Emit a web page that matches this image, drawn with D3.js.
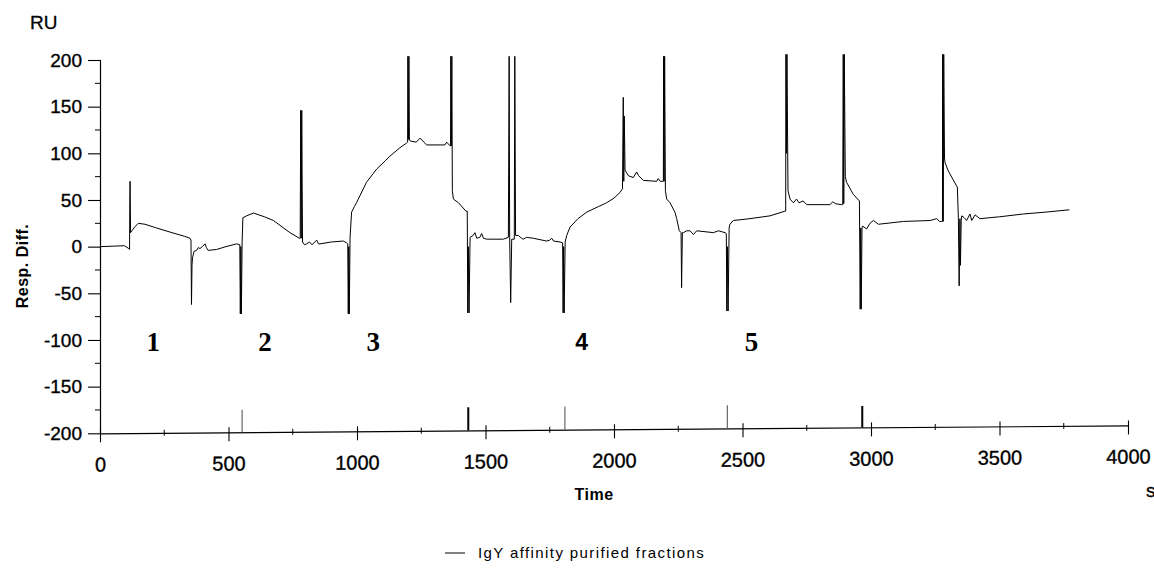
<!DOCTYPE html>
<html>
<head>
<meta charset="utf-8">
<script src="https://cdn.jsdelivr.net/npm/d3@7"></script>
<style>
  html, body { margin: 0; padding: 0; background: #fff; }
  svg { display: block; }
  text { font-family: "Liberation Sans", Arial, Helvetica, sans-serif; fill: #000; }
</style>
</head>
<body>
<svg id="chart" width="1154" height="573"></svg>
<script>
// ---------------- data ----------------
const timeS = [0,50,95,112,115,116,117,119,124,135,149,175,220,280,330,350,354,356,358,360,366,376,382,389,398,409,414,421,454,490,532,544,546,548,550,553,556,570,597,640,675,739,776,779,781,783,785,788,796,804,815,825,843,850,856,900,947,960,964,966,968,970,973,979,990,998,1037,1076,1110,1128,1167,1193,1197,1198,1200,1202,1204,1210,1230,1245,1251,1260,1271,1342,1349,1362,1364,1365,1367,1369,1371,1375,1395,1424,1429,1431,1433,1436,1440,1452,1459,1466,1478,1485,1492,1504,1569,1589,1592,1594,1598,1602,1612,1614,1617,1628,1640,1647,1660,1686,1738,1750,1758,1765,1790,1800,1802,1804,1806,1810,1816,1829,1860,1894,1940,1971,2000,2023,2033,2036,2038,2040,2043,2047,2056,2075,2088,2096,2114,2166,2172,2180,2189,2192,2193,2195,2197,2200,2205,2218,2237,2244,2254,2261,2263,2266,2270,2283,2296,2309,2322,2387,2406,2432,2437,2439,2441,2444,2448,2451,2464,2529,2607,2665,2668,2669,2671,2673,2677,2685,2698,2710,2720,2736,2750,2840,2851,2862,2886,2890,2892,2894,2896,2900,2905,2931,2955,2958,2960,2962,2965,2967,2983,2996,3009,3029,3126,3230,3256,3266,3275,3278,3279,3281,3283,3286,3288,3301,3333,3336,3340,3343,3346,3348,3351,3353,3363,3372,3385,3392,3405,3424,3500,3593,3680,3772];
const respRU = [0,0.5,1,-2,-3,48,70,15,17,21,25,24,20,15,11,9,7,-62,-20,-12,-5,-4,-1,-2,0,3,-1,-4,-3,0,3,2,-72,0,-72,5,31,33,36,32,28,15,9,9,146,9,146,5,2,3,5,2,7,3,3,5,6,4,3,-72,0,-72,10,37,43,47,69,83,92,97,106,111,112,204,115,204,114,113,112,116,115,112,109,109,112,108,108,204,108,204,60,51,47,38,38,-71,0,-71,10,12,15,9,10,14,9,8,8,10,204,10,-60,8,8,204,12,12,9,8,10,9,6,7,9,6,5,4,-71,0,-71,5,12,21,30,37,43,47,52,58,62,160,70,140,82,80,76,74,80,76,71,70,73,70,70,70,204,70,204,60,51,47,37,30,17,15,-44,15,15,17,17,13,17,15,17,15,14,-69,0,-69,20,24,28,30,33,38,38,206,100,206,60,51,47,51,47,49,45,45,48,46,45,45,206,46,206,75,69,56,49,-67,20,-67,20,22,19,25,28,24,27,28,30,27,27,27,206,27,206,95,90,81,65,64,30,-42,30,-20,28,33,31,28,35,28,34,30,32,35,37,39.5];

// injection marks on the baseline
const markTimes  = [553, 1433, 1809, 2441, 2966];
const markValues = [-176, -175, -175, -175, -177];
const markStrong = [false, true, false, false, true];

// sample numbers
const sampleLabels = ["1", "2", "3", "4", "5"];
const sampleTimes  = [207, 642, 1063, 1874, 2535];
const sampleValue  = -102;

// ticks
const yTickValues = [-200, -150, -100, -50, 0, 50, 100, 150, 200];
const yMinorValues = [-175, -125, -75, -25, 25, 75, 125, 175];
const xTickValues = [0, 500, 1000, 1500, 2000, 2500, 3000, 3500, 4000];
const xMinorValues = [250, 750, 1250, 1750, 2250, 2750, 3250, 3750];

const seriesName = "IgY affinity purified fractions";

// ---------------- layout ----------------
const svg = d3.select("#chart");
const plotL = 100, plotR = 1128, plotT = 60, plotB = 433.3;
const skew = -0.44; // scanned baseline is slightly tilted
const fmt = d => String(d);

const x = d3.scaleLinear().domain([0, 4000]).range([plotL, plotR]);
const y = d3.scaleLinear().domain([-200, 200]).range([plotB, plotT]);

svg.append("rect").attr("width", 1154).attr("height", 573).attr("fill", "#fff");

// ---- Y axis ----
const yAxis = svg.append("g").attr("transform", `translate(${plotL},0)`)
  .call(d3.axisLeft(y).tickValues(yTickValues).tickFormat(fmt).tickSize(12).tickSizeOuter(0).tickPadding(6));
yAxis.select(".domain").attr("stroke", "#000").attr("stroke-width", 1.2);
yAxis.selectAll(".tick line").attr("stroke", "#000").attr("x2", 1).attr("x1", -12).attr("stroke-width", 1.1);
yAxis.selectAll(".tick text").style("font-size", "19px")
  .attr("stroke", "#000").attr("stroke-width", 0.35);
svg.append("g").attr("transform", `translate(${plotL},0)`)
  .selectAll("line").data(yMinorValues).join("line")
  .attr("x1", -5).attr("x2", 1).attr("y1", d => y(d)).attr("y2", d => y(d))
  .attr("stroke", "#000").attr("stroke-width", 1);

// ---- X axis (tilted like the scan) ----
const xg = svg.append("g")
  .attr("transform", `translate(${plotL},${plotB}) skewY(${skew}) translate(${-plotL},0)`);
xg.call(d3.axisBottom(x).tickValues(xTickValues).tickFormat(fmt).tickSize(9).tickSizeOuter(0).tickPadding(15));
xg.select(".domain").attr("stroke", "#000").attr("stroke-width", 1.2);
xg.selectAll(".tick line").attr("stroke", "#000").attr("y1", -5).attr("y2", 9).attr("stroke-width", 1.1);
xg.selectAll(".tick text").style("font-size", "20px").attr("y", 24)
  .attr("stroke", "#000").attr("stroke-width", 0.35);
xg.selectAll("line.minor").data(xMinorValues).join("line").attr("class", "minor")
  .attr("x1", d => x(d)).attr("x2", d => x(d)).attr("y1", -3).attr("y2", 3)
  .attr("stroke", "#000").attr("stroke-width", 1);

// injection marks, sitting on the tilted baseline
const mg = svg.append("g")
  .attr("transform", `translate(${plotL},0) skewY(${skew}) translate(${-plotL},0)`);
mg.selectAll("line").data(markTimes).join("line")
  .attr("x1", d => x(d)).attr("x2", d => x(d))
  .attr("y1", y(-200)).attr("y2", (d, i) => y(markValues[i]))
  .attr("stroke", (d, i) => markStrong[i] ? "#000" : "#666")
  .attr("stroke-width", (d, i) => markStrong[i] ? 2 : 1.2);

// ---- trace ----
const pts = timeS.map((t, i) => [t, respRU[i]]);
const line = d3.line().x(d => x(d[0])).y(d => y(d[1]));
svg.append("path").datum(pts).attr("d", line)
  .attr("fill", "none").attr("stroke", "#000").attr("stroke-width", 1)
  .attr("stroke-linejoin", "miter");

// ---- sample numbers ----
svg.append("g").selectAll("text").data(sampleLabels).join("text")
  .attr("x", (d, i) => x(sampleTimes[i]))
  .attr("y", y(sampleValue))
  .attr("dy", "0.35em")
  .attr("text-anchor", "middle")
  .style("font-family", d => d === "4" ? '"Liberation Sans", Arial, sans-serif' : '"Liberation Serif", "Times New Roman", serif')
  .style("font-size", d => d === "4" ? "23px" : "27px")
  .style("font-weight", "bold")
  .text(d => d);

// ---- titles ----
svg.append("text").attr("x", 30).attr("y", 29).style("font-size", "19px")
  .attr("stroke", "#000").attr("stroke-width", 0.3).text("RU");
svg.append("text")
  .attr("transform", `translate(28,266) rotate(-90)`)
  .attr("text-anchor", "middle")
  .style("font-size", "16px").style("font-weight", "bold").style("letter-spacing", "0.5px")
  .text("Resp. Diff.");
svg.append("text").attr("x", 594).attr("y", 500).attr("text-anchor", "middle")
  .style("font-size", "16px").style("font-weight", "bold").style("letter-spacing", "0.5px").text("Time");
svg.append("text").attr("x", 1146).attr("y", 497).style("font-size", "19px")
  .attr("stroke", "#000").attr("stroke-width", 0.3).text("s");

// ---- legend ----
svg.append("line").attr("x1", 445).attr("x2", 465).attr("y1", 553).attr("y2", 553)
  .attr("stroke", "#000").attr("stroke-width", 1);
svg.append("text").attr("x", 478).attr("y", 558).style("font-size", "15px")
  .style("letter-spacing", "1.4px").text(seriesName);
</script>
</body>
</html>
